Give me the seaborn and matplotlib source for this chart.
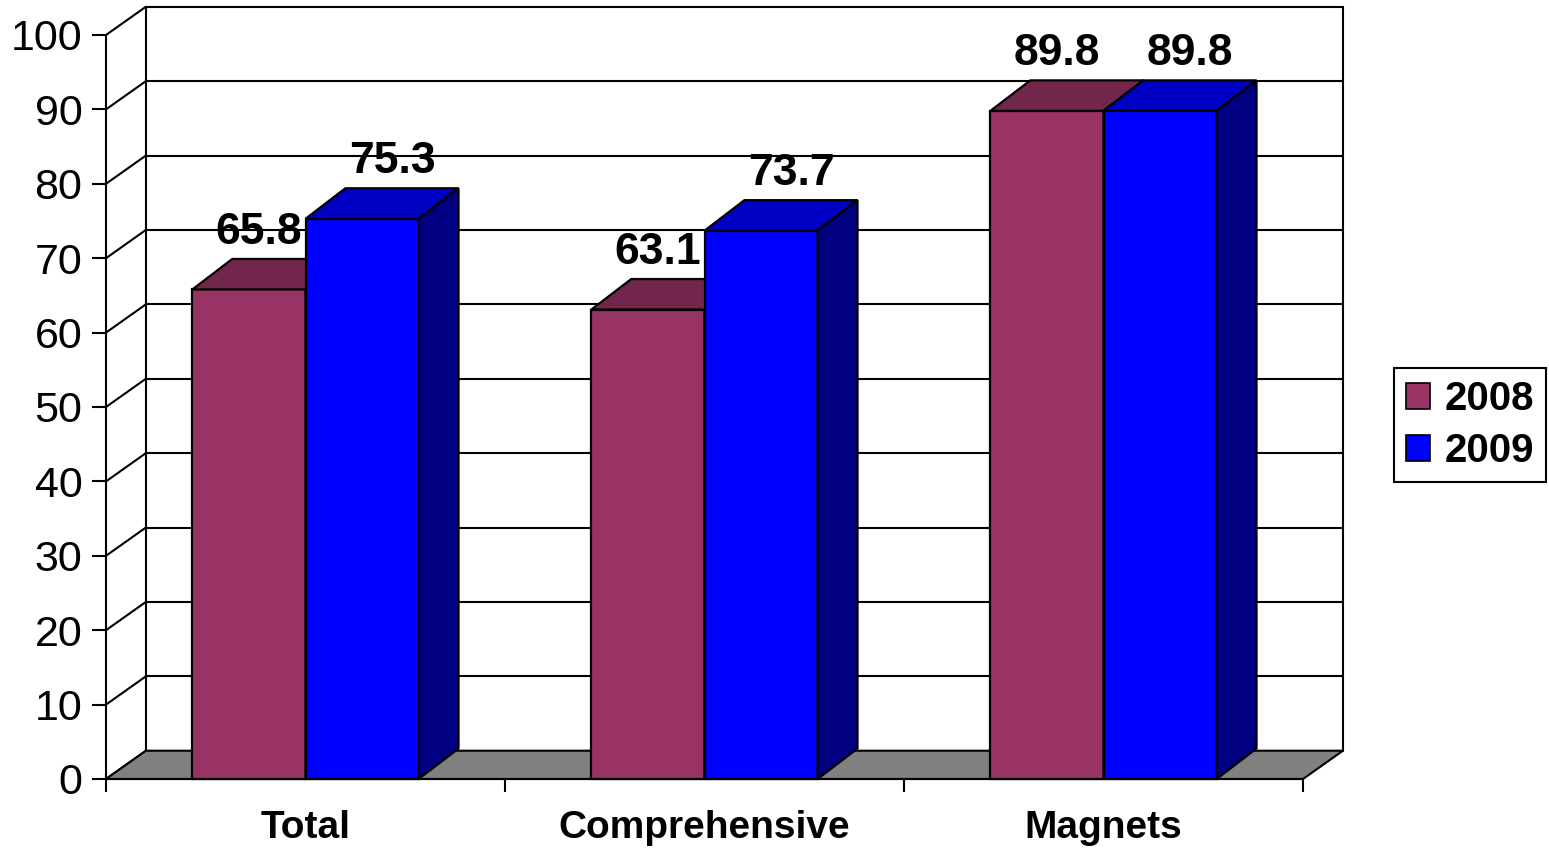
import matplotlib
matplotlib.use("Agg")
import matplotlib.pyplot as plt
from matplotlib.patches import Polygon, Patch
import seaborn as sns
import pandas as pd

# Chart data
categories = ["Total", "Comprehensive", "Magnets"]
years = ["2008", "2009"]
values_2008 = [65.8, 63.1, 89.8]
values_2009 = [75.3, 73.7, 89.8]
y_ticks = list(range(0, 101, 10))

# Face shading for the pseudo-3D bars
front_colors = {"2008": "#993366", "2009": "#0000FF"}
top_colors = {"2008": "#73264C", "2009": "#0000C4"}
side_colors = {"2008": "#5C1F3D", "2009": "#000080"}
# horizontal shift of the value labels (data units)
label_shift = {"2008": 0.025, "2009": 0.075}

df = pd.DataFrame({
    "category": categories * 2,
    "year": [years[0]] * len(categories) + [years[1]] * len(categories),
    "value": values_2008 + values_2009,
})

sns.set_style("white")
plt.rcParams["font.family"] = ["Liberation Sans", "DejaVu Sans"]
plt.rcParams["text.color"] = "black"
plt.rcParams["xtick.color"] = "black"
plt.rcParams["ytick.color"] = "black"

W, H = 1549, 848
fig = plt.figure(figsize=(W / 100, H / 100), dpi=100)
ax = fig.add_axes([106 / W, 69 / H, (1303 - 106) / W, 744 / H])
ax.set_facecolor("none")

sns.barplot(data=df, x="category", y="value", hue="year",
            order=categories, hue_order=years, palette=front_colors,
            width=0.567, gap=0, edgecolor="black", linewidth=1.6,
            saturation=1, errorbar=None, legend=False, ax=ax)

ax.set_xlim(-0.5, 2.5)
ax.set_ylim(0, 100)

# depth of the 3D projection (data units)
DX = 0.1
DY_WALL = 3.8
DY_BAR = 4.1
LW = 1.5
x_left, x_right = -0.5, 2.5

# back wall with gridlines and left side wall
for v in y_ticks:
    ax.plot([x_left + DX, x_right + DX], [v + DY_WALL, v + DY_WALL],
            color="black", lw=LW, clip_on=False, zorder=0.5)
    ax.plot([x_left, x_left + DX], [v, v + DY_WALL],
            color="black", lw=LW, clip_on=False, zorder=0.5)
for xv in (x_left + DX, x_right + DX):
    ax.plot([xv, xv], [DY_WALL, 100 + DY_WALL], color="black", lw=LW,
            clip_on=False, zorder=0.5)

# floor
floor = Polygon([(x_left, 0), (x_right, 0), (x_right + DX, DY_WALL),
                 (x_left + DX, DY_WALL)], closed=True, facecolor="#808080",
                edgecolor="black", lw=LW, clip_on=False, zorder=1)
ax.add_patch(floor)

# top and side faces of every bar, drawn left to right
bars = []
for year, cont in zip(years, ax.containers):
    for rect, val in zip(cont.patches, cont.datavalues):
        bars.append((rect.get_x(), rect, year, val))
bars.sort(key=lambda b: b[0])

for i, (x0, rect, year, val) in enumerate(bars):
    z = 2 + i * 0.1
    w = rect.get_width()
    h = rect.get_height()
    rect.set_zorder(z)
    rect.set_clip_on(False)
    top = Polygon([(x0, h), (x0 + w, h), (x0 + w + DX, h + DY_BAR),
                   (x0 + DX, h + DY_BAR)], closed=True,
                  facecolor=top_colors[year], edgecolor="black", lw=1.6,
                  clip_on=False, zorder=z)
    side = Polygon([(x0 + w, 0), (x0 + w + DX, DY_BAR),
                    (x0 + w + DX, h + DY_BAR), (x0 + w, h)], closed=True,
                   facecolor=side_colors[year], edgecolor="black", lw=1.6,
                   clip_on=False, zorder=z)
    ax.add_patch(top)
    ax.add_patch(side)
    ax.annotate(f"{val:.1f}", xy=(x0 + w / 2 + label_shift[year], h + DY_BAR),
                xytext=(0, 11), textcoords="offset points",
                ha="center", va="baseline", fontsize=32, fontweight="bold",
                color="black", annotation_clip=False, zorder=10)

# axes, ticks and labels
ax.set_xlabel("")
ax.set_ylabel("")
ax.set_yticks(y_ticks)
ax.set_yticklabels([str(v) for v in y_ticks])
ax.tick_params(axis="y", direction="out", length=10, width=1.5, pad=7,
               labelsize=31, colors="black", left=True)
ax.set_xticks([-0.5, 0.5, 1.5, 2.5])
ax.set_xticklabels([])
ax.set_xticks(range(len(categories)), minor=True)
ax.set_xticklabels(categories, minor=True, fontsize=28, fontweight="bold")
ax.tick_params(axis="x", which="major", direction="out", length=9,
               width=1.5, colors="black", bottom=True)
ax.tick_params(axis="x", which="minor", length=0, pad=22, colors="black")

for s in ("top", "right"):
    ax.spines[s].set_visible(False)
for s in ("left", "bottom"):
    ax.spines[s].set_color("black")
    ax.spines[s].set_linewidth(LW)
    ax.spines[s].set_zorder(1.5)

handles = [Patch(facecolor=front_colors[y], edgecolor="black", lw=1.2)
           for y in years]
leg = fig.legend(handles, years, loc="center",
                 bbox_to_anchor=(1470 / W, 1 - 425 / H),
                 prop={"weight": "bold", "size": 29},
                 frameon=True, fancybox=False, framealpha=1,
                 edgecolor="black", handlelength=0.6, handleheight=0.6,
                 handletextpad=0.35, labelspacing=0.35, borderpad=0.3,
                 borderaxespad=0)
leg.get_frame().set_linewidth(1.5)
for t in leg.get_texts():
    t.set_color("black")

fig.savefig("out.png", dpi=100)
